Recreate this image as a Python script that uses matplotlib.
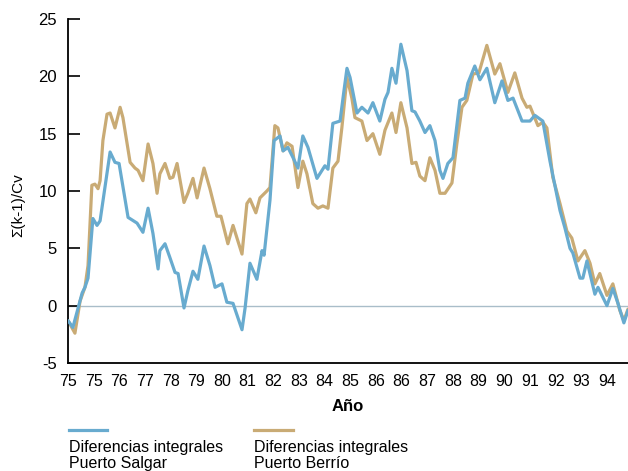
import matplotlib
matplotlib.use("Agg")
import matplotlib.pyplot as plt
from matplotlib.lines import Line2D

plt.rcParams['font.family'] = ['Liberation Sans', 'DejaVu Sans']
plt.rcParams['axes.unicode_minus'] = False

# tick labels (evenly spaced along the axis)
tick_labels = ["75", "75", "76", "77", "78", "79", "80", "81", "82", "83", "84",
               "85", "86", "86", "87", "88", "89", "90", "91", "92", "93", "94"]

# Puerto Salgar: position (in tick units) and value
salgar_x = [0.00, 0.19, 0.55, 0.66, 0.78, 0.97, 1.13, 1.25, 1.64, 1.83, 1.99, 2.34, 2.69, 2.92,
            3.12, 3.31, 3.51, 3.58, 3.78, 3.97, 4.17, 4.29, 4.52, 4.67, 4.87, 5.06, 5.30, 5.53,
            5.73, 6.00, 6.19, 6.43, 6.78, 6.90, 7.09, 7.36, 7.56, 7.64, 7.87, 8.03, 8.26, 8.38,
            8.57, 8.77, 8.96, 9.15, 9.35, 9.70, 10.01, 10.13, 10.32, 10.60, 10.75, 10.87, 10.99,
            11.26, 11.45, 11.69, 11.88, 12.15, 12.35, 12.47, 12.62, 12.78, 12.97, 13.21, 13.40,
            13.52, 13.71, 13.91, 14.10, 14.30, 14.49, 14.61, 14.80, 15.00, 15.27, 15.47, 15.58,
            15.85, 16.05, 16.32, 16.63, 16.91, 17.14, 17.34, 17.69, 18.00, 18.19, 18.50, 18.78,
            19.17, 19.36, 19.56, 19.67, 19.95, 20.06, 20.22, 20.53, 20.65, 21.00, 21.23, 21.43,
            21.66, 21.82]
salgar_y = [-1.3, -1.9, 1.1, 1.6, 2.4, 7.6, 7.0, 7.4, 13.4, 12.5, 12.4, 7.7, 7.2, 6.4,
            8.5, 6.3, 3.2, 4.8, 5.4, 4.2, 2.9, 2.8, -0.2, 1.3, 3.0, 2.3, 5.2, 3.5,
            1.6, 1.9, 0.3, 0.2, -2.1, -0.2, 3.7, 2.3, 4.8, 4.4, 9.2, 14.4, 14.8, 13.5,
            13.8, 12.9, 12.0, 14.8, 13.8, 11.1, 12.2, 11.9, 15.9, 16.1, 18.7, 20.7, 19.9,
            16.8, 17.3, 16.8, 17.7, 16.1, 18.0, 18.6, 20.7, 19.4, 22.8, 20.5, 17.0,
            16.9, 16.1, 15.1, 15.7, 14.4, 11.8, 11.1, 12.4, 12.9, 17.9, 18.1, 19.4,
            20.9, 19.7, 20.7, 17.7, 19.6, 17.9, 18.1, 16.1, 16.1, 16.6, 16.1, 12.6,
            8.3, 6.8, 5.0, 4.6, 2.4, 2.4, 3.9, 1.0, 1.6, 0.0, 1.5, 0.2,
            -1.5, -0.4]

# Puerto Berrío
berrio_x = [0.00, 0.27, 0.47, 0.66, 0.78, 0.93, 1.05, 1.17, 1.25, 1.36, 1.52, 1.64, 1.83, 2.03,
            2.14, 2.42, 2.61, 2.73, 2.92, 3.12, 3.31, 3.47, 3.58, 3.78, 3.97, 4.09, 4.25, 4.52,
            4.67, 4.87, 5.03, 5.30, 5.53, 5.80, 5.96, 6.23, 6.43, 6.78, 6.97, 7.09, 7.32, 7.48,
            7.75, 7.87, 8.06, 8.18, 8.38, 8.53, 8.73, 8.96, 9.15, 9.31, 9.54, 9.74, 9.93, 10.13,
            10.32, 10.52, 10.67, 10.87, 11.06, 11.18, 11.45, 11.65, 11.88, 12.15, 12.35, 12.62,
            12.78, 12.97, 13.21, 13.40, 13.56, 13.71, 13.91, 14.10, 14.30, 14.49, 14.69, 14.96,
            15.15, 15.35, 15.54, 15.78, 16.01, 16.32, 16.63, 16.83, 17.14, 17.41, 17.69, 17.88,
            18.00, 18.31, 18.50, 18.66, 18.89, 19.17, 19.44, 19.63, 19.87, 20.14, 20.34, 20.53,
            20.72, 21.00, 21.23, 21.50, 21.66, 21.82]
berrio_y = [-1.3, -2.4, 0.4, 1.6, 3.5, 10.5, 10.6, 10.2, 10.9, 14.4, 16.7, 16.8, 15.5, 17.3,
            16.4, 12.5, 12.0, 11.8, 10.9, 14.1, 12.4, 9.8, 11.5, 12.4, 11.1, 11.2, 12.4, 9.0,
            9.8, 11.1, 9.4, 12.0, 10.2, 7.8, 7.8, 5.4, 7.0, 4.5, 8.9, 9.3, 8.1, 9.4,
            10.0, 10.3, 15.7, 15.5, 13.5, 14.2, 13.9, 10.3, 12.6, 11.5, 8.9, 8.5, 8.7, 8.5,
            12.0, 12.6, 15.5, 19.9, 18.1, 16.4, 16.1, 14.4, 15.0, 13.2, 15.3, 16.8,
            15.1, 17.7, 15.5, 12.4, 12.5, 11.3, 10.9, 12.9, 11.8, 9.8, 9.8, 10.7,
            14.1, 17.3, 17.9, 20.2, 20.3, 22.7, 20.2, 21.1, 18.6, 20.3, 18.1, 17.3,
            17.4, 15.7, 16.0, 15.5, 11.2, 8.9, 6.5, 5.9, 3.9, 4.8, 3.7, 1.9,
            2.8, 0.9, 1.9, -0.4, -1.3, -0.3]

series_names = ["Diferencias integrales\nPuerto Salgar", "Diferencias integrales\nPuerto Berrío"]
blue = "#68abcf"
tan = "#c9ab75"

fig = plt.figure(figsize=(6.28, 4.71), dpi=100)
ax = fig.add_axes([68/628, 1 - 363/471, 1 - 68/628, (363 - 19)/471])

ax.axhline(0, color="#a9bdc9", lw=1.0, zorder=1)
ax.plot(salgar_x, salgar_y, color=blue, lw=2.3, solid_joinstyle="round",
        solid_capstyle="round", zorder=3)
ax.plot(berrio_x, berrio_y, color=tan, lw=2.3, solid_joinstyle="round",
        solid_capstyle="round", zorder=2)

ax.set_xlim(0, 21.82)
ax.set_ylim(-5, 25)
ax.set_yticks([-5, 0, 5, 10, 15, 20, 25])
ax.set_xticks(range(len(tick_labels)))
ax.set_xticklabels(tick_labels)
ax.tick_params(axis="y", direction="in", length=8.6, width=1.2, pad=8, labelsize=12)
ax.tick_params(axis="x", length=0, pad=8, labelsize=11.5)
for s in ["top", "right"]:
    ax.spines[s].set_visible(False)
for s in ["left", "bottom"]:
    ax.spines[s].set_linewidth(1.3)
ax.set_xlabel("Año", fontsize=12, fontweight="bold", labelpad=7)

fig.text(18/628, 1 - 205/471, "Σ(k-1)/Cv", rotation=90, fontsize=11,
         ha="center", va="center")

# legend: line above two-line label
for (x0, x1, col, name) in [(69, 107, blue, series_names[0]), (254, 293, tan, series_names[1])]:
    fig.add_artist(Line2D([x0/628, x1/628], [1 - 430/471, 1 - 430/471], color=col, lw=2.3,
                          transform=fig.transFigure))
    fig.text(x0/628, 1 - 440/471, name, fontsize=11.5, ha="left", va="top", linespacing=1.1)

fig.savefig("out.png", dpi=100)
